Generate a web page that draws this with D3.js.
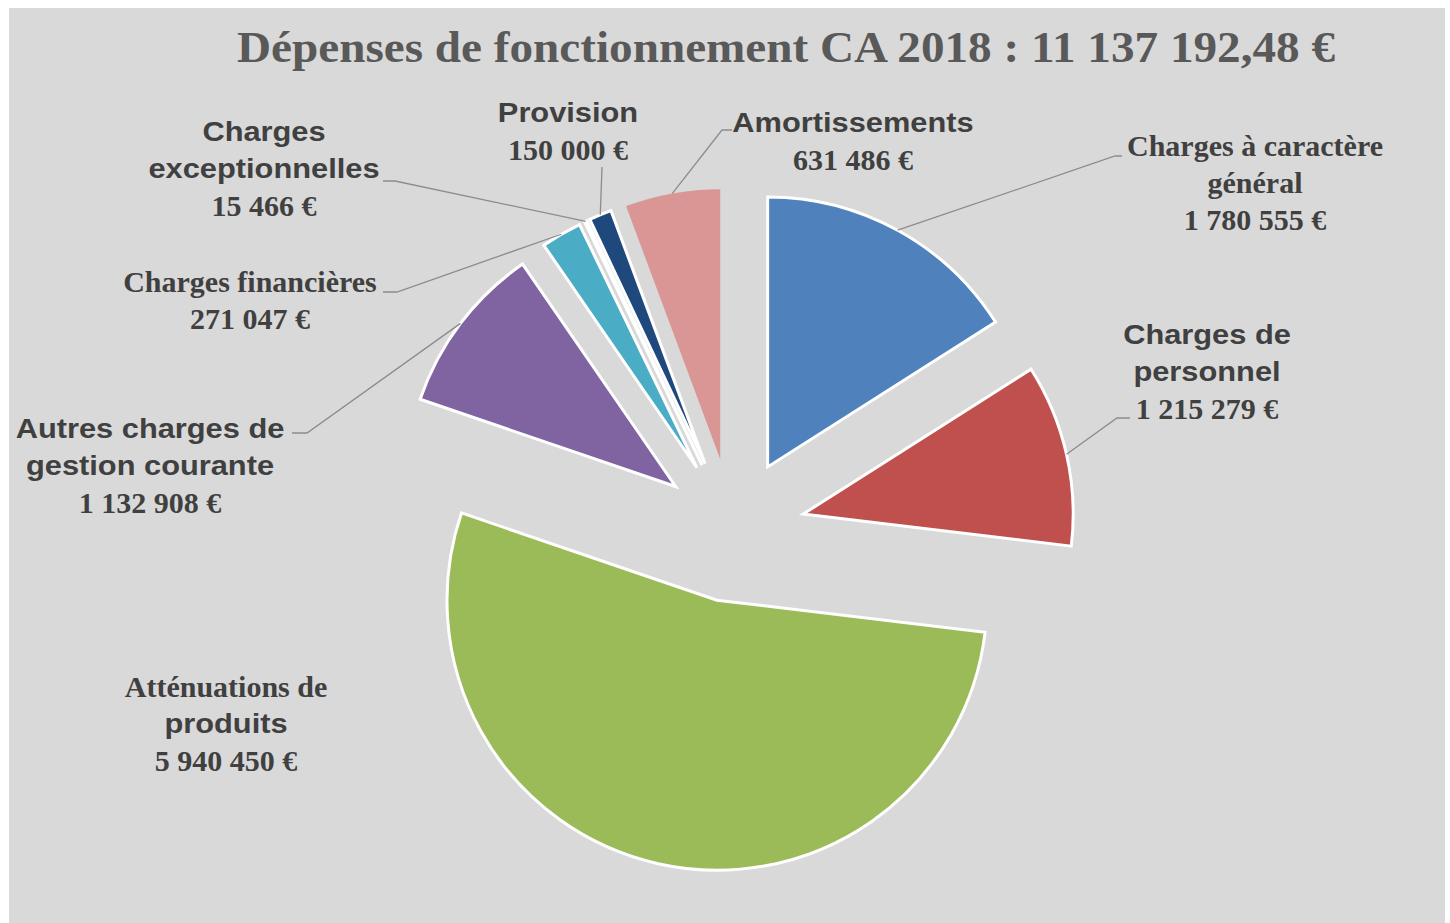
<!DOCTYPE html>
<html>
<head>
<meta charset="utf-8">
<script src="https://cdn.jsdelivr.net/npm/d3@7"></script>
<style>
  body { margin: 0; background: #fff; }
  svg { display: block; }
</style>
</head>
<body>
<svg id="pie" width="1450" height="923"></svg>
<script>
// data
var categories = ["Charges à caractère général", "Charges de personnel", "Atténuations de produits",
  "Autres charges de gestion courante", "Charges financières", "Charges exceptionnelles",
  "Provision", "Amortissements"];
var values = [1780555, 1215279, 5940450, 1132908, 271047, 15466, 150000, 631486];
var valueLabels = ["1 780 555 €", "1 215 279 €", "5 940 450 €", "1 132 908 €",
  "271 047 €", "15 466 €", "150 000 €", "631 486 €"];
var titleText = "Dépenses de fonctionnement CA 2018 : 11 137 192,48 €";

// label lines: [text, font] ; "s" = sans, "r" = serif
var labelLines = [
  [["Charges à caractère", "r"], ["général", "r"]],
  [["Charges de", "s"], ["personnel", "s"]],
  [["Atténuations de", "r"], ["produits", "s"]],
  [["Autres charges de", "s"], ["gestion courante", "s"]],
  [["Charges financières", "r"]],
  [["Charges", "s"], ["exceptionnelles", "s"]],
  [["Provision", "s"]],
  [["Amortissements", "s"]]
];

var colors = ["#4F81BD", "#C0504D", "#9BBB59", "#8064A2", "#4BACC6", "#FFFFFF", "#1F497D", "#D99694"];
var strokes = ["#fff", "#fff", "#fff", "#fff", "#fff", "#fff", "#fff", "none"];

// label layout: label center x, first line y, elbow point (null = no leader)
var labelPos = [
  { x: 1255, y: 145, elbow: [1115, 156], end: [1122, 156] },
  { x: 1207, y: 334, elbow: [1117, 418], end: [1130, 418] },
  { x: 226, y: 686, elbow: null },
  { x: 150, y: 428, elbow: [307, 433], end: [292, 433] },
  { x: 250, y: 281, elbow: [397, 292], end: [383, 292] },
  { x: 264, y: 131, elbow: [395, 181], end: [383, 181] },
  { x: 568, y: 112, elbow: [602, 167], end: [602, 167] },
  { x: 853, y: 122, elbow: [722, 130], end: [732, 130] }
];

var svg = d3.select("#pie"),
  cx = 733, cy = 530, radius = 270, explode = 72,
  lineH = 37;

svg.append("rect")
  .attr("x", 9).attr("y", 8)
  .attr("width", 1436).attr("height", 915)
  .attr("fill", "#D9D9D9");

svg.append("text")
  .attr("x", 786).attr("y", 62)
  .attr("text-anchor", "middle")
  .attr("font-family", "Liberation Serif, Times New Roman, serif")
  .attr("font-weight", "bold")
  .attr("font-size", 44)
  .attr("fill", "#595959")
  .attr("textLength", 1098)
  .attr("lengthAdjust", "spacingAndGlyphs")
  .text(titleText);

var pie = d3.pie().sort(null).value(function (d) { return d; });
var arcs = pie(values);
var arc = d3.arc().innerRadius(0).outerRadius(radius);

function offset(d) {
  var a = (d.startAngle + d.endAngle) / 2;
  return [cx + explode * Math.sin(a), cy - explode * Math.cos(a)];
}

var g = svg.append("g");

g.selectAll(".slice")
  .data(arcs)
  .enter().append("path")
  .attr("class", "slice")
  .attr("transform", function (d) { var o = offset(d); return "translate(" + o[0] + "," + o[1] + ")"; })
  .attr("d", arc)
  .attr("fill", function (d, i) { return colors[i]; })
  .attr("stroke", function (d, i) { return strokes[i]; })
  .attr("stroke-width", 3)
  .attr("stroke-linejoin", "miter");

// leader lines
g.selectAll(".leader")
  .data(arcs.filter(function (d, i) { return labelPos[i].elbow; }))
  .enter().append("polyline")
  .attr("class", "leader")
  .attr("fill", "none")
  .attr("stroke", "#8C8C8C")
  .attr("stroke-width", 1.3)
  .attr("points", function (d) {
    var o = offset(d), a = (d.startAngle + d.endAngle) / 2, p = labelPos[d.index];
    var sx = o[0] + radius * Math.sin(a), sy = o[1] - radius * Math.cos(a);
    return [[sx, sy], p.elbow, p.end].map(function (q) { return q.join(","); }).join(" ");
  });

// labels
var fontFor = {
  s: { family: "Liberation Sans, Arial, sans-serif", size: 28, sx: 1.1 },
  r: { family: "Liberation Serif, Times New Roman, serif", size: 30, sx: 1 }
};

categories.forEach(function (c, i) {
  var p = labelPos[i];
  var lines = labelLines[i].concat([[valueLabels[i], "r"]]);
  lines.forEach(function (l, k) {
    var f = fontFor[l[1]];
    svg.append("text")
      .attr("transform", "translate(" + p.x + "," + (p.y + k * lineH) + ") scale(" + f.sx + ",1)")
      .attr("dy", "0.35em")
      .attr("text-anchor", "middle")
      .attr("font-weight", "bold")
      .attr("fill", "#404040")
      .attr("font-family", f.family)
      .attr("font-size", f.size)
      .text(l[0]);
  });
});
</script>
</body>
</html>
